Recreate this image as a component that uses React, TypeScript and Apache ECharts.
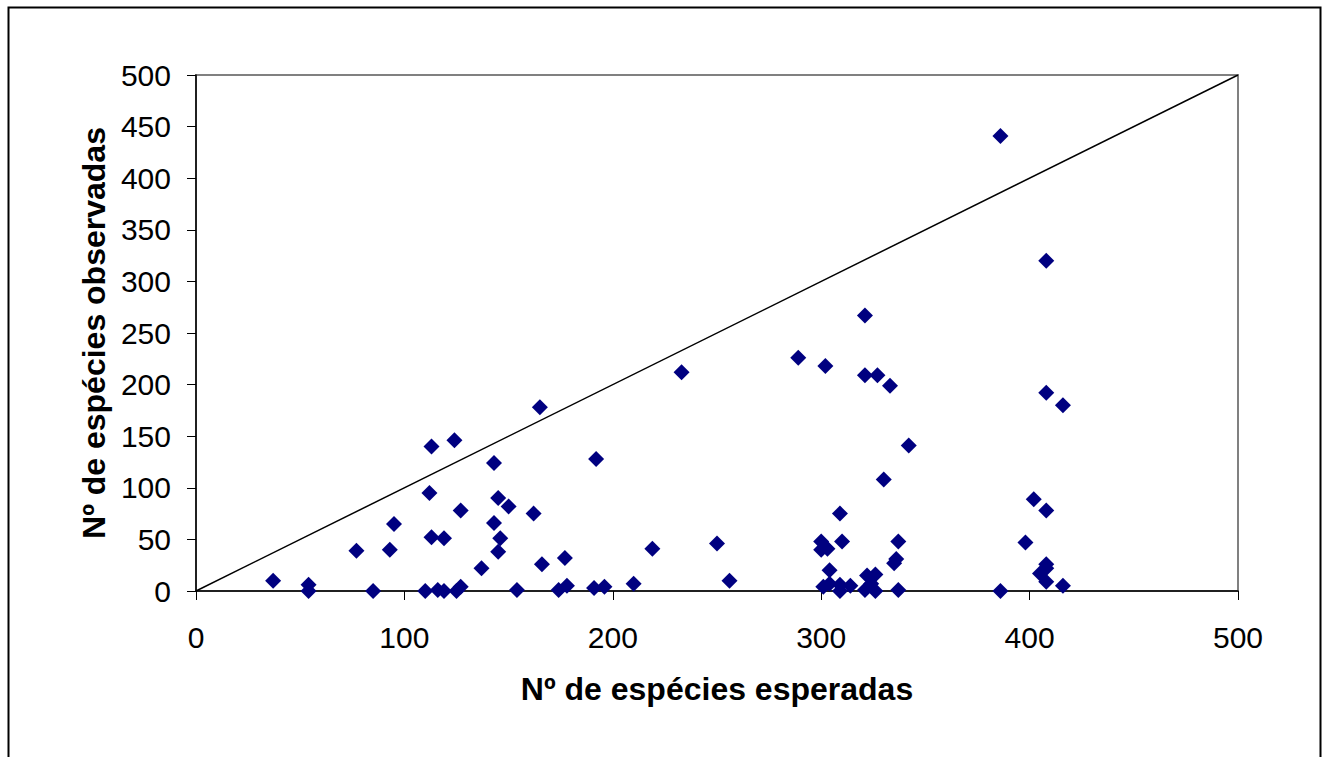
import React, { useEffect, useRef } from "react";
import * as echarts from "echarts";

const expected = [37, 54, 54, 77, 85, 93, 95, 110, 113, 112, 113, 116, 119, 119, 124, 125, 127, 127, 137, 143, 143, 145, 145, 146, 150, 154, 162, 165, 166, 174, 177, 178, 192, 191, 196, 210, 219, 233, 250, 256, 289, 302, 321, 321, 327, 333, 342, 330, 309, 310, 300, 300, 303, 337, 336, 335, 304, 304, 309, 309, 314, 322, 321, 326, 326, 324, 337, 301, 386, 408, 408, 416, 386, 402, 408, 398, 408, 405, 408, 416, 408];
const observed = [10, 6, 0, 39, 0, 40, 65, 0, 140, 95, 52, 1, 51, 0, 146, 0, 78, 4, 22, 124, 66, 90, 38, 51, 82, 1, 75, 178, 26, 1, 32, 5, 128, 3, 4, 7, 41, 212, 46, 10, 226, 218, 267, 209, 209, 199, 141, 108, 75, 48, 48, 40, 41, 48, 31, 27, 20, 7, 6, 0, 5, 15, 1, 16, 0, 7, 1, 4, 441, 320, 192, 180, 0, 89, 78, 47, 26, 17, 9, 5, 22];
const diagonalX = [0, 500];
const diagonalY = [0, 500];
const xTitle = "Nº de espécies esperadas";
const yTitle = "Nº de espécies observadas";

export default function App() {
  const ref = useRef<HTMLDivElement>(null);
  useEffect(() => {
    const chart = echarts.init(ref.current!, null, { renderer: "svg" });
    const font = "Liberation Sans, Arial, sans-serif";
    chart.setOption({
      animation: false,
      backgroundColor: "#ffffff",
      textStyle: { fontFamily: font },
      graphic: [
        {
          type: "rect",
          shape: { x: 8.5, y: 7.5, width: 1312, height: 780 },
          style: { fill: "none", stroke: "#000", lineWidth: 2 },
          silent: true,
        },
      ],
      grid: { left: 196, right: 84, top: 75, bottom: 166, show: true, borderColor: "#808080", borderWidth: 2 },
      xAxis: {
        type: "value",
        min: 0,
        max: 500,
        interval: 100,
        name: xTitle,
        nameLocation: "middle",
        nameGap: 82,
        nameTextStyle: { fontSize: 32, fontWeight: "bold", color: "#000", fontFamily: font },
        axisLine: { show: true, onZero: false, lineStyle: { color: "#000", width: 1.5 } },
        axisTick: { show: true, length: 9, lineStyle: { color: "#000" } },
        axisLabel: { fontSize: 30, color: "#000", margin: 31, fontFamily: font },
        splitLine: { show: false },
      },
      yAxis: {
        type: "value",
        min: 0,
        max: 500,
        interval: 50,
        name: yTitle,
        nameLocation: "middle",
        nameGap: 85,
        nameTextStyle: { fontSize: 32, fontWeight: "bold", color: "#000", fontFamily: font },
        axisLine: { show: true, onZero: false, lineStyle: { color: "#000", width: 1.5 } },
        axisTick: { show: true, length: 9, lineStyle: { color: "#000" } },
        axisLabel: { fontSize: 30, color: "#000", margin: 25, fontFamily: font },
        splitLine: { show: false },
      },
      series: [
        {
          type: "line",
          data: diagonalX.map((x, i) => [x, diagonalY[i]]),
          symbol: "none",
          lineStyle: { color: "#000", width: 1.5 },
          silent: true,
          z: 1,
        },
        {
          type: "scatter",
          data: expected.map((x, i) => [x, observed[i]]),
          symbol: "diamond",
          symbolSize: 16,
          itemStyle: { color: "#000080", opacity: 1 },
          z: 2,
        },
      ],
    });
    return () => chart.dispose();
  }, []);
  return <div ref={ref} style={{ position: "absolute", left: 0, top: 0, width: 1322, height: 757 }} />;
}
